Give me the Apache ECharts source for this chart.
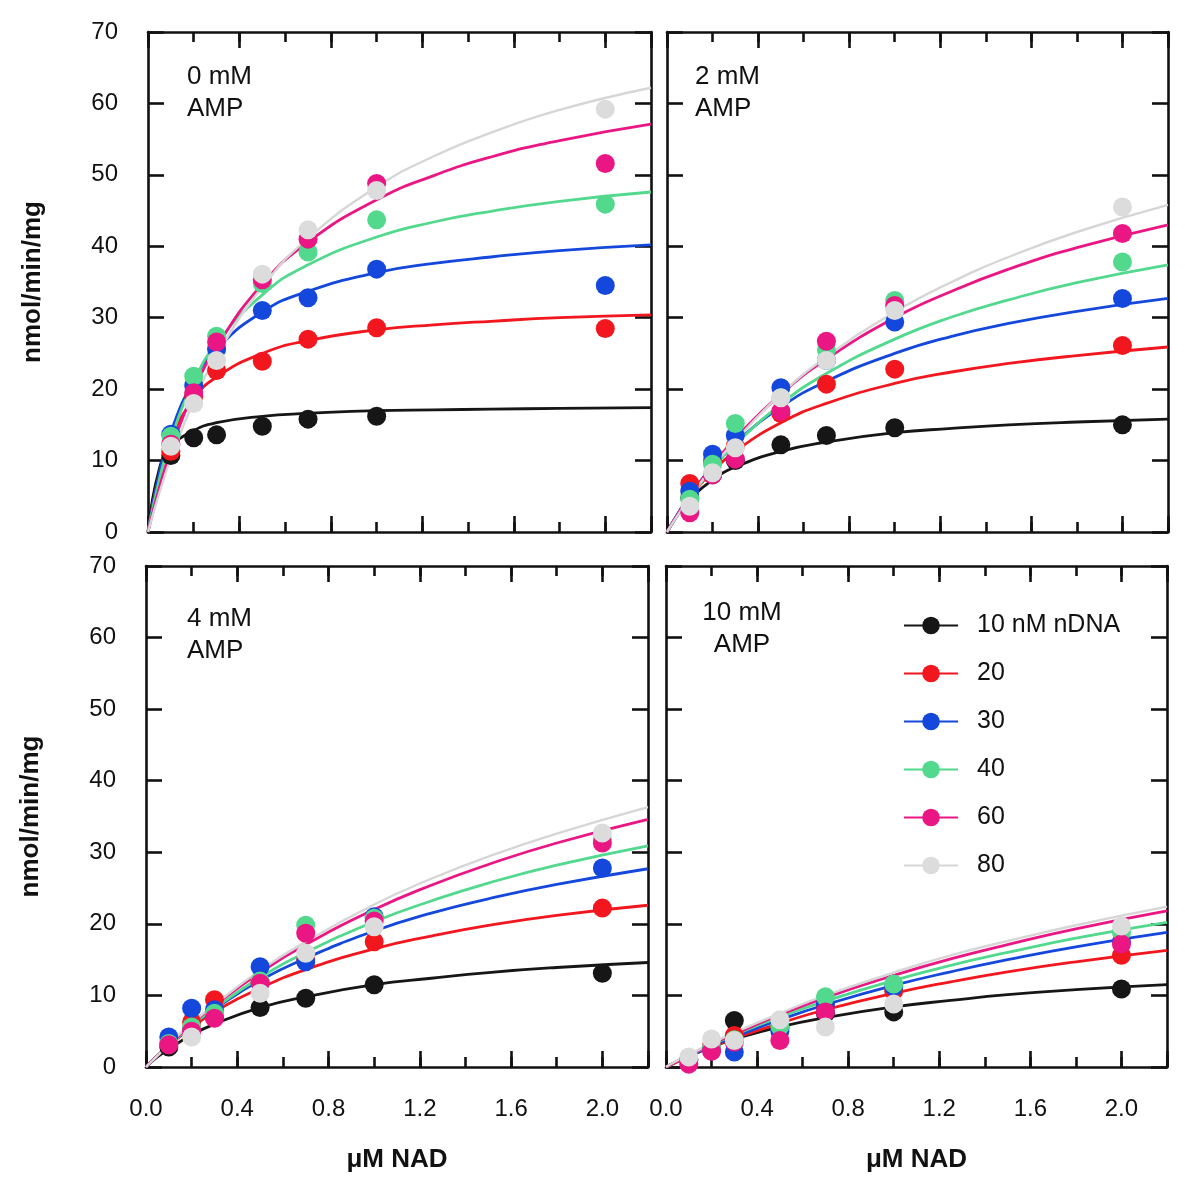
<!DOCTYPE html>
<html><head><meta charset="utf-8">
<script src="https://cdn.jsdelivr.net/npm/echarts@6/dist/echarts.min.js"></script>
<style>html,body{margin:0;padding:0;background:#fff}#c{width:1200px;height:1180px}</style>
</head><body><div id="c"></div>
<script>
// ---------- data ----------
const nadX = [0.1, 0.2, 0.3, 0.5, 0.7, 1.0, 2.0];
const fitX = [0, 0.05, 0.1, 0.2, 0.3, 0.5, 0.7, 1.0, 1.25, 1.5, 1.8, 2.2];
const ndnaNames = ['10 nM nDNA', '20', '30', '40', '60', '80'];
const ampLabels = ['0 mM\nAMP', '2 mM\nAMP', '4 mM\nAMP', '10 mM\nAMP'];
const xTickLabels = ['0.0', '0.4', '0.8', '1.2', '1.6', '2.0'];
const yTickLabels = ['0', '10', '20', '30', '40', '50', '60', '70'];

// measured points, rows = 10, 20, 30, 40, 60, 80 nM nDNA
const amp0Points = [
  [10.7, 13.2, 13.6, 14.8, 15.8, 16.2, null],
  [11.3, 19.0, 22.6, 23.9, 27.0, 28.6, 28.5],
  [13.7, 20.5, 25.6, 31.0, 32.8, 36.8, 34.5],
  [13.4, 21.8, 27.4, 34.8, 39.2, 43.7, 45.9],
  [12.3, 19.5, 26.6, 35.3, 41.0, 48.8, 51.6],
  [12.0, 18.0, 24.0, 36.1, 42.3, 47.8, 59.2]
];
const amp2Points = [
  [4.8, 8.0, 10.0, 12.2, 13.5, 14.6, 15.0],
  [6.8, 9.9, 12.0, 16.6, 20.7, 22.8, 26.1],
  [5.7, 10.9, 13.5, 20.2, 24.0, 29.4, 32.7],
  [4.6, 9.5, 15.2, 18.8, 25.5, 32.4, 37.8],
  [2.7, 8.0, 10.2, 16.9, 26.7, 31.7, 41.8],
  [3.6, 8.3, 11.8, 18.8, 24.0, 31.0, 45.5]
];
const amp4Points = [
  [2.8, 5.3, 7.0, 8.3, 9.6, 11.5, 13.1],
  [3.2, 6.3, 9.4, 11.8, 15.0, 17.5, 22.2],
  [4.2, 8.2, 8.0, 14.0, 14.7, 21.0, 27.8],
  [3.3, 5.6, 7.5, 12.0, 19.8, 20.8, 31.8],
  [3.1, 5.0, 6.8, 11.7, 18.7, 20.4, 31.3],
  [null, 4.2, null, 10.3, 15.9, 19.6, 32.7]
];
const amp10Points = [
  [1.0, 2.5, 6.5, 5.5, 7.5, 7.7, 10.9],
  [1.0, 2.9, 4.4, 5.5, 8.5, 10.6, 15.6],
  [1.0, 2.5, 2.1, 5.0, 8.8, 11.2, 17.5],
  [1.0, 2.8, 3.8, 5.7, 9.8, 11.6, 18.8],
  [0.4, 2.2, 3.5, 3.7, 7.7, null, 17.2],
  [1.4, 3.9, 3.7, 6.6, 5.6, 8.8, 19.7]
];

// fitted curves at fitX
const amp0Fit = [
  [0, 8.9, 11.9, 14.2, 15.3, 16.2, 16.6, 17.0, 17.1, 17.2, 17.3, 17.4],
  [0, 8.1, 13.0, 18.6, 21.7, 25.0, 26.8, 28.3, 29.0, 29.5, 30.0, 30.4],
  [0, 8.3, 14.0, 21.2, 25.6, 30.8, 33.7, 36.3, 37.6, 38.5, 39.4, 40.2],
  [0, 7.4, 13.0, 21.0, 26.4, 33.2, 37.4, 41.3, 43.4, 44.9, 46.3, 47.6],
  [0, 6.2, 11.4, 19.7, 25.9, 34.7, 40.6, 46.5, 49.9, 52.5, 54.8, 57.1],
  [0, 5.5, 10.3, 18.3, 24.7, 34.3, 41.1, 48.3, 52.6, 55.9, 59.1, 62.2]
];
const amp2Fit = [
  [0, 2.6, 4.6, 7.3, 9.1, 11.3, 12.6, 13.9, 14.5, 15.0, 15.4, 15.8],
  [0, 2.6, 4.9, 8.5, 11.3, 15.3, 18.0, 20.8, 22.4, 23.6, 24.7, 25.9],
  [0, 2.7, 5.1, 9.2, 12.5, 17.5, 21.1, 25.0, 27.4, 29.2, 30.9, 32.7],
  [0, 2.5, 4.8, 8.9, 12.3, 17.9, 22.2, 27.0, 30.1, 32.5, 34.9, 37.4],
  [0, 2.6, 5.0, 9.3, 13.1, 19.3, 24.2, 30.0, 33.7, 36.8, 39.8, 43.0],
  [0, 2.5, 4.8, 9.1, 12.8, 19.3, 24.5, 30.8, 35.0, 38.5, 42.0, 45.8]
];
const amp4Fit = [
  [0, 1.4, 2.5, 4.5, 6.0, 8.3, 9.8, 11.5, 12.4, 13.2, 13.9, 14.6],
  [0, 1.6, 3.0, 5.5, 7.7, 11.0, 13.6, 16.5, 18.3, 19.8, 21.2, 22.6],
  [0, 1.6, 3.1, 5.8, 8.1, 12.1, 15.2, 19.0, 21.5, 23.5, 25.5, 27.7],
  [0, 1.6, 3.0, 5.8, 8.2, 12.5, 16.0, 20.3, 23.2, 25.7, 28.2, 30.9],
  [0, 1.6, 3.1, 6.0, 8.6, 13.2, 17.1, 22.0, 25.4, 28.3, 31.3, 34.6],
  [0, 1.6, 3.2, 6.1, 8.7, 13.5, 17.5, 22.7, 26.3, 29.4, 32.6, 36.3]
];
const amp10Fit = [
  [0, 0.8, 1.5, 2.8, 3.9, 5.6, 6.9, 8.4, 9.3, 10.1, 10.8, 11.5],
  [0, 0.7, 1.5, 2.8, 4.0, 6.1, 8.0, 10.3, 11.9, 13.3, 14.7, 16.3],
  [0, 0.8, 1.5, 2.9, 4.2, 6.6, 8.7, 11.4, 13.3, 15.0, 16.8, 18.8],
  [0, 0.8, 1.6, 3.1, 4.5, 7.0, 9.2, 12.1, 14.2, 16.0, 18.0, 20.2],
  [0, 0.8, 1.6, 3.2, 4.6, 7.3, 9.7, 12.8, 15.1, 17.1, 19.3, 21.8],
  [0, 0.9, 1.7, 3.3, 4.8, 7.5, 10.0, 13.2, 15.6, 17.6, 19.8, 22.4]
];

// ---------- styling / layout ----------
const lineColors = ['#161616', '#f2161e', '#1448dc', '#52d98e', '#ea1684', '#d6d6d6'];
const dotColors  = ['#161616', '#f2161e', '#1448dc', '#52d98e', '#ea1684', '#dcdcdc'];
const FONT = '"Liberation Sans", Arial, Helvetica, sans-serif';
const INK = '#111';
const gridBoxes = [
  {left: 148, top: 32, width: 503, height: 500},
  {left: 667, top: 32, width: 501, height: 500},
  {left: 146, top: 566, width: 502, height: 501},
  {left: 666, top: 566, width: 501, height: 501}
];
const labelPos = [
  {x: 187, y: 61, align: 'left'},
  {x: 695, y: 61, align: 'left'},
  {x: 187, y: 603, align: 'left'},
  {x: 742, y: 597, align: 'center'}
];
const panels = [
  {pts: amp0Points, fit: amp0Fit},
  {pts: amp2Points, fit: amp2Fit},
  {pts: amp4Points, fit: amp4Fit},
  {pts: amp10Points, fit: amp10Fit}
];

const grid = [], xAxis = [], yAxis = [], series = [], graphic = [];
const lineW = 2.6;

gridBoxes.forEach((b, g) => {
  grid.push(Object.assign({outerBoundsMode: 'none', containLabel: false}, b));
  const bottomRow = g >= 2;
  const leftCol = g % 2 === 0;
  const baseX = {
    type: 'value', gridIndex: g, min: 0, max: 2.2,
    splitLine: {show: false}, silent: true
  };
  xAxis.push(Object.assign({}, baseX, {
    position: 'bottom', interval: 0.4,
    axisLine: {show: true, onZero: false, lineStyle: {color: INK, width: lineW}},
    axisTick: {show: true, inside: true, length: 16, lineStyle: {color: INK, width: lineW}},
    axisLabel: {
      show: bottomRow, margin: 30, fontSize: 24, color: INK, fontFamily: FONT,
      formatter: v => { const s = v.toFixed(1); return xTickLabels.includes(s) && v < 2.1 ? s : ''; }
    },
    name: bottomRow ? 'μM NAD' : '', nameLocation: 'middle', nameGap: 80,
    nameTextStyle: {fontSize: 26, fontWeight: 'bold', color: INK, fontFamily: FONT}
  }));
  xAxis.push(Object.assign({}, baseX, {
    position: 'bottom', interval: 0.2,
    axisLine: {show: false, onZero: false},
    axisTick: {show: true, inside: true, length: 10, lineStyle: {color: INK, width: lineW}},
    axisLabel: {show: false}
  }));
  xAxis.push(Object.assign({}, baseX, {
    position: 'top', interval: 0.4,
    axisLine: {show: true, onZero: false, lineStyle: {color: INK, width: lineW}},
    axisTick: {show: true, inside: true, length: 16, lineStyle: {color: INK, width: lineW}},
    axisLabel: {show: false}
  }));
  xAxis.push(Object.assign({}, baseX, {
    position: 'top', interval: 0.2,
    axisLine: {show: false, onZero: false},
    axisTick: {show: true, inside: true, length: 10, lineStyle: {color: INK, width: lineW}},
    axisLabel: {show: false}
  }));
  const baseY = {
    type: 'value', gridIndex: g, min: 0, max: 70, interval: 10,
    splitLine: {show: false}, silent: true,
    axisLine: {show: true, onZero: false, lineStyle: {color: INK, width: lineW}},
    axisTick: {show: true, inside: true, length: 16, lineStyle: {color: INK, width: lineW}}
  };
  yAxis.push(Object.assign({}, baseY, {
    position: 'left',
    axisLabel: {
      show: leftCol, margin: 30, fontSize: 24, color: INK, fontFamily: FONT,
      formatter: v => yTickLabels[Math.round(v / 10)] || ''
    },
    name: leftCol ? 'nmol/min/mg' : '', nameLocation: 'middle', nameGap: 102,
    nameTextStyle: {fontSize: 26, fontWeight: 'bold', color: INK, fontFamily: FONT}
  }));
  yAxis.push(Object.assign({}, baseY, {position: 'right', axisLabel: {show: false}}));

  graphic.push({
    type: 'text', x: labelPos[g].x, y: labelPos[g].y, silent: true,
    style: {
      text: ampLabels[g], fill: INK, font: '26px ' + FONT, lineHeight: 32,
      textAlign: labelPos[g].align, textVerticalAlign: 'top'
    }
  });
});

panels.forEach((p, g) => {
  p.fit.forEach((row, c) => {
    series.push({
      type: 'line', name: ndnaNames[c], xAxisIndex: 4 * g, yAxisIndex: 2 * g,
      data: fitX.map((x, i) => [x, row[i]]),
      smooth: 0.5, symbol: 'circle', showSymbol: false,
      lineStyle: {color: lineColors[c], width: c === 5 ? 2.4 : 2.8},
      itemStyle: {color: dotColors[c]},
      z: 2, silent: true, animation: false
    });
  });
});
panels.forEach((p, g) => {
  p.pts.forEach((row, c) => {
    series.push({
      type: 'scatter', name: 'pts ' + ndnaNames[c] + ' ' + g, xAxisIndex: 4 * g, yAxisIndex: 2 * g,
      data: nadX.map((x, i) => row[i] == null ? null : [x, row[i]]).filter(d => d),
      symbol: 'circle', symbolSize: 19,
      itemStyle: {color: dotColors[c], opacity: 1},
      z: 3, silent: true, animation: false
    });
  });
});

const chart = echarts.init(document.getElementById('c'), null, {renderer: 'canvas'});
chart.setOption({
  backgroundColor: '#fff',
  animation: false,
  textStyle: {fontFamily: FONT},
  grid, xAxis, yAxis, series, graphic,
  legend: {
    data: ndnaNames, orient: 'vertical', left: 898, top: 608,
    itemWidth: 54, itemHeight: 22, itemGap: 23, selectedMode: false,
    textStyle: {fontSize: 25, color: INK, fontFamily: FONT, padding: [0, 0, 0, 14]}
  }
});
</script>
</body></html>
